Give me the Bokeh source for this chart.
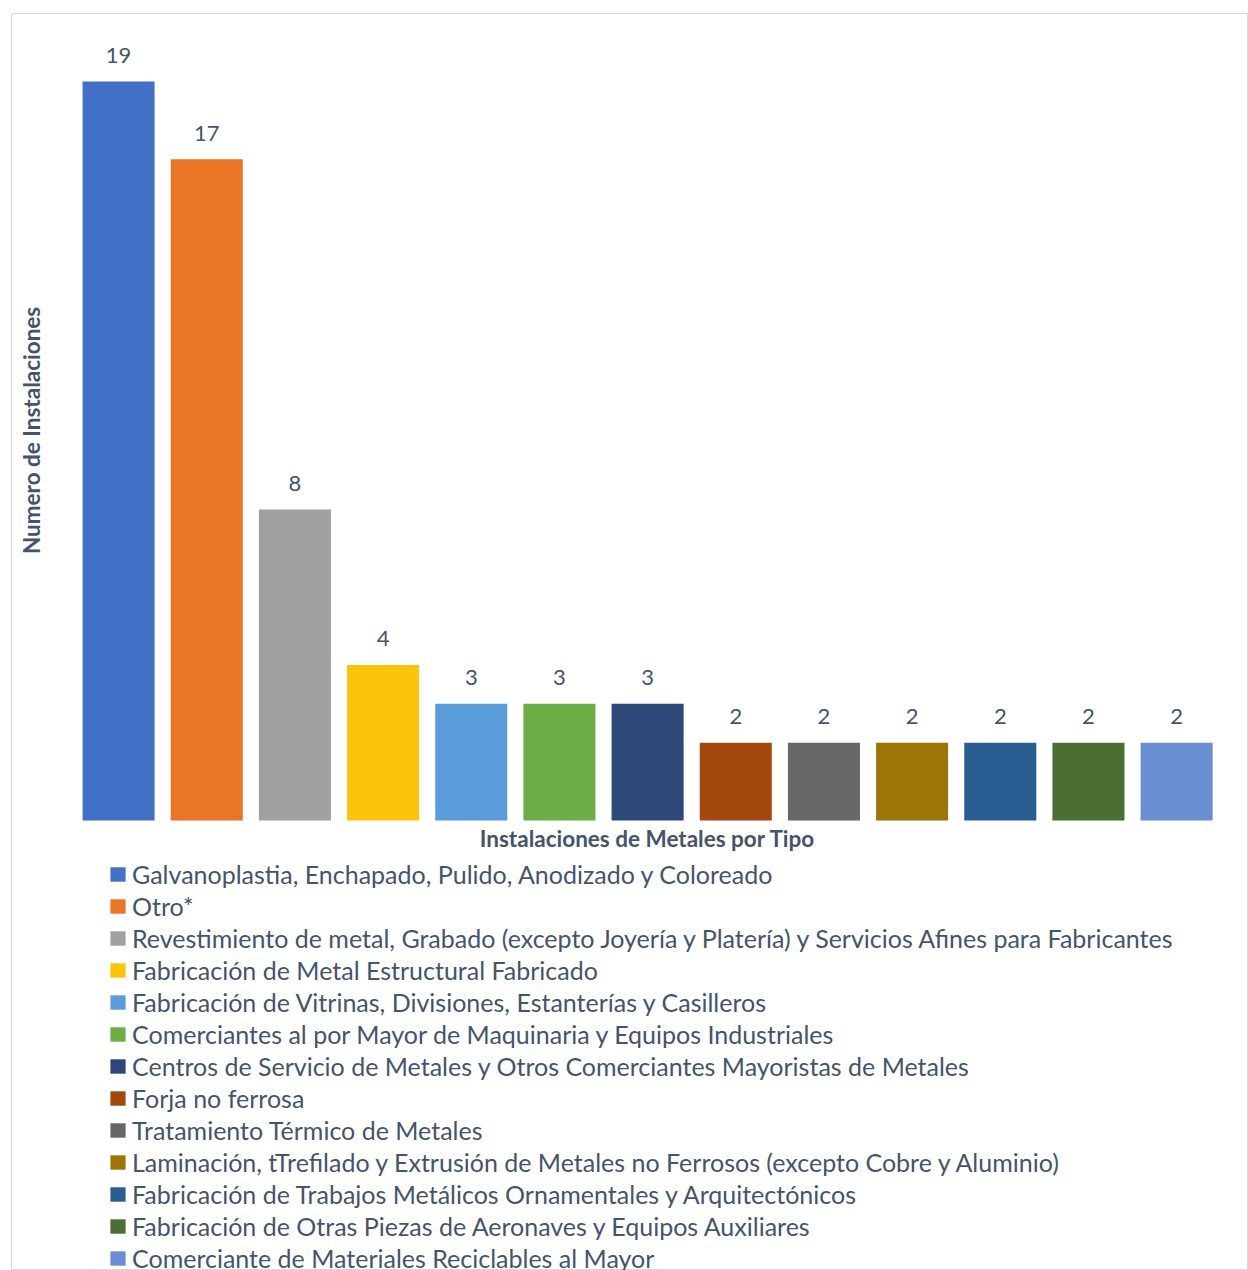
from math import pi
from bokeh.plotting import figure
from bokeh.models import Range1d, ColumnDataSource, Legend, LegendItem, Label
from bokeh.core.properties import value
from bokeh.embed import file_html
from bokeh.resources import INLINE

categories = [
    "Galvanoplastia, Enchapado, Pulido, Anodizado y Coloreado",
    "Otro*",
    "Revestimiento de metal, Grabado (excepto Joyería y Platería) y Servicios Afines para Fabricantes",
    "Fabricación de Metal Estructural Fabricado",
    "Fabricación de Vitrinas, Divisiones, Estanterías y Casilleros",
    "Comerciantes al por Mayor de Maquinaria y Equipos Industriales",
    "Centros de Servicio de Metales y Otros Comerciantes Mayoristas de Metales",
    "Forja no ferrosa",
    "Tratamiento Térmico de Metales",
    "Laminación, tTrefilado y Extrusión de Metales no Ferrosos (excepto Cobre y Aluminio)",
    "Fabricación de Trabajos Metálicos Ornamentales y Arquitectónicos",
    "Fabricación de Otras Piezas de Aeronaves y Equipos Auxiliares",
    "Comerciante de Materiales Reciclables al Mayor",
]
values = [19, 17, 8, 4, 3, 3, 3, 2, 2, 2, 2, 2, 2]
colors = [
    "#4270C6", "#EB7527", "#A0A0A0", "#FBC30A", "#5A9BD9", "#6CAE45",
    "#2D4779", "#A3480E", "#676767", "#9C7508", "#2A5D92", "#4A6E33", "#6A8ED2",
]
x_title = "Instalaciones de Metales por Tipo"
y_title = "Numero de Instalaciones"

TEXT = "#44546A"
FONT = "Lato"

positions = list(range(len(categories)))
src = ColumnDataSource(dict(x=positions, cat=categories, val=values, col=colors,
                            lab=[str(v) for v in values]))

# frame = whole chart area (page 11..1248 x 13..1270)
p = figure(x_range=Range1d(-0.5 - 63 / 88.17, 12.5 + 27.8 / 88.17),
           y_range=Range1d(-450 / 38.89, 807 / 38.89),
           width=1248, height=1270, output_backend="svg", toolbar_location=None,
           x_axis_location=None, y_axis_location=None,
           min_border_left=11, min_border_right=0, min_border_top=13, min_border_bottom=0)
p.outline_line_color = "#D9D9D9"
p.outline_line_width = 1
p.xgrid.grid_line_color = None
p.ygrid.grid_line_color = None
p.background_fill_color = "white"
p.border_fill_color = "white"

r = p.vbar(x="x", top="val", width=0.817, fill_color="col", line_color=None, source=src)
p.text(x="x", y="val", text="lab", source=src, text_align="center",
       text_baseline="middle", y_offset=-26, text_font_size="22px",
       text_color=TEXT, text_font=value(FONT))

p.add_layout(Label(x=6, y=-0.45, text=x_title, text_align="center",
                   text_baseline="middle", text_font=FONT, text_font_style="bold",
                   text_font_size="22.5px", text_color=TEXT))
p.add_layout(Label(x=-0.99, y=10.03, text=y_title, angle=pi / 2, text_align="center",
                   text_baseline="middle", text_font=FONT, text_font_style="bold",
                   text_font_size="22.5px", text_color=TEXT))

items = [LegendItem(label=c, renderers=[r], index=i) for i, c in enumerate(categories)]
legend = Legend(items=items, orientation="vertical", location=(97, -3),
                margin=0, padding=0, spacing=2, label_height=30,
                glyph_width=19, glyph_height=18, label_standoff=5,
                label_text_font=FONT, label_text_font_size="25px",
                label_text_color=TEXT, border_line_color=None,
                background_fill_alpha=0)
p.add_layout(legend, "center")

open("out.html", "w").write(file_html(p, INLINE))
